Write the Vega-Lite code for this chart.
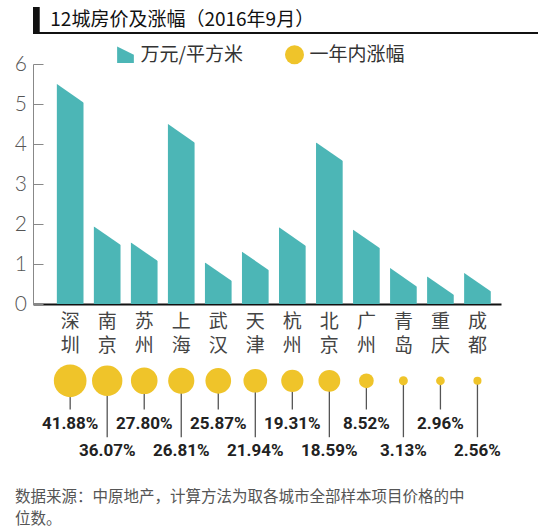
{
  "$schema": "https://vega.github.io/schema/vega-lite/v6.json",
  "padding": {"left": 9, "top": 7, "right": 0, "bottom": 0},
  "background": "white",
  "config": {"view": {"stroke": null}, "font": "Noto Sans CJK SC"},
  "title": {
    "text": ["数据来源：中原地产，计算方法为取各城市全部样本项目价格的中", "位数。"],
    "orient": "bottom", "anchor": "start", "frame": "bounds", "dx": 6,
    "fontSize": 15.5, "fontWeight": "normal", "color": "#555", "lineHeight": 21.5,
    "offset": 31, "font": "Noto Sans CJK SC"
  },
  "datasets": {
    "cities": [
      {"city": "深圳", "price": 5.5, "growth": 0.4188},
      {"city": "南京", "price": 1.94, "growth": 0.3607},
      {"city": "苏州", "price": 1.54, "growth": 0.2780},
      {"city": "上海", "price": 4.5, "growth": 0.2681},
      {"city": "武汉", "price": 1.04, "growth": 0.2587},
      {"city": "天津", "price": 1.31, "growth": 0.2194},
      {"city": "杭州", "price": 1.92, "growth": 0.1931},
      {"city": "北京", "price": 4.04, "growth": 0.1859},
      {"city": "广州", "price": 1.86, "growth": 0.0852},
      {"city": "青岛", "price": 0.9, "growth": 0.0313},
      {"city": "重庆", "price": 0.69, "growth": 0.0296},
      {"city": "成都", "price": 0.78, "growth": 0.0256}
    ]
  },
  "spacing": 19,
  "vconcat": [
    {
      "width": 529, "height": 26,
      "data": {"values": [{"title": "12城房价及涨幅（2016年9月）"}]},
      "layer": [
        {
          "mark": {"type": "rule", "color": "#111", "strokeWidth": 2},
          "encoding": {"y": {"datum": 0, "type": "quantitative", "scale": {"domain": [0, 1]}, "axis": null}}
        },
        {
          "mark": {"type": "rect", "color": "#111"},
          "encoding": {
            "x": {"datum": 0, "type": "quantitative", "scale": {"domain": [0, 529]}, "axis": null},
            "x2": {"datum": 7},
            "y": {"datum": 0, "type": "quantitative"},
            "y2": {"datum": 1}
          }
        },
        {
          "mark": {"type": "text", "align": "left", "baseline": "middle", "fontSize": 19, "color": "#111", "font": "Noto Sans CJK SC"},
          "encoding": {
            "x": {"datum": 18, "type": "quantitative"},
            "y": {"datum": 0.5, "type": "quantitative"},
            "text": {"field": "title"}
          }
        }
      ]
    },
    {
      "spacing": 4,
      "vconcat": [
        {
          "width": 468, "height": 240,
          "data": {"name": "cities"},
          "encoding": {
            "x": {
              "field": "city", "type": "nominal", "sort": null,
              "scale": {
                "domain": ["深圳", "南京", "苏州", "上海", "武汉", "天津", "杭州", "北京", "广州", "青岛", "重庆", "成都"],
                "paddingInner": 0.28, "paddingOuter": 0.46, "align": 0.7
              },
              "axis": {
                "title": null, "domainColor": "#111", "domainWidth": 2, "ticks": false,
                "labelAngle": 0, "labelExpr": "split(datum.label, '')",
                "labelFontSize": 19, "labelLineHeight": 23.5, "labelColor": "#444",
                "labelPadding": 8.5, "labelBaseline": "top", "labelFont": "Noto Sans CJK SC"
              }
            },
            "y": {
              "field": "price", "type": "quantitative",
              "scale": {"domain": [0, 6]},
              "axis": {
                "title": null, "values": [0, 1, 2, 3, 4, 5, 6], "tickCount": 7, "grid": false,
                "labelOverlap": false, "labelSeparation": 0, "labelBound": false,
                "domainColor": "#888", "domainWidth": 1, "ticks": true, "tickColor": "#888",
                "tickSize": -10, "tickWidth": 1, "labelFontSize": 21,
                "labelFont": "Lato", "labelFontWeight": 300, "labelColor": "#555",
                "labelPadding": 16.5, "minExtent": 24
              }
            }
          },
          "layer": [
            {
              "mark": {"type": "bar"},
              "encoding": {
                "color": {
                  "datum": "万元/平方米",
                  "scale": {"domain": ["万元/平方米", "一年内涨幅"], "range": ["#4cb6b6", "#efc42a"]},
                  "legend": {
                    "orient": "none", "legendX": 83, "legendY": 38, "direction": "horizontal",
                    "title": null, "labelFontSize": 19, "labelFont": "Noto Sans CJK SC",
                    "labelColor": "#333", "labelOffset": 5.5, "columnPadding": 42,
                    "symbolSize": 361, "symbolStrokeWidth": 0, "symbolOpacity": 1,
                    "encode": {
                      "symbols": {
                        "update": {
                          "shape": {"signal": "datum.value === '一年内涨幅' ? 'circle' : 'M -1 -1 L 1 0 L 1 1 L -1 1 Z'"},
                          "size": {"signal": "datum.value === '一年内涨幅' ? 361 : 280"}
                        }
                      }
                    }
                  }
                }
              }
            },
            {
              "mark": {
                "type": "point", "filled": true, "color": "white", "opacity": 1, "strokeWidth": 0,
                "shape": "M -1.1 -0.069 L -1.1 -0.3 L 1.1 -0.3 L 1.1 1.455 Z", "size": 713
              }
            }
          ]
        },
        {
          "width": 468, "height": 99,
          "data": {"name": "cities"},
          "transform": [{"window": [{"op": "row_number", "as": "idx"}]}],
          "encoding": {
            "x": {
              "field": "city", "type": "nominal", "sort": null,
              "scale": {
                "domain": ["深圳", "南京", "苏州", "上海", "武汉", "天津", "杭州", "北京", "广州", "青岛", "重庆", "成都"],
                "paddingInner": 0.28, "paddingOuter": 0.46, "align": 0.7
              },
              "axis": null
            }
          },
          "layer": [
            {
              "transform": [{"filter": "datum.idx % 2 == 1"}],
              "mark": {"type": "rule", "color": "#555", "strokeWidth": 1.3},
              "encoding": {
                "y": {"datum": 22, "type": "quantitative", "scale": {"domain": [0, 99], "reverse": true}, "axis": null},
                "y2": {"datum": 51}
              }
            },
            {
              "transform": [{"filter": "datum.idx % 2 == 0"}],
              "mark": {"type": "rule", "color": "#555", "strokeWidth": 1.3},
              "encoding": {
                "y": {"datum": 22, "type": "quantitative"},
                "y2": {"datum": 79}
              }
            },
            {
              "mark": {"type": "circle", "opacity": 1},
              "encoding": {
                "y": {"datum": 22, "type": "quantitative"},
                "size": {"field": "growth", "type": "quantitative", "scale": {"domain": [0, 0.42], "range": [0, 1072]}, "legend": null},
                "color": {"datum": "一年内涨幅"}
              }
            },
            {
              "transform": [{"filter": "datum.idx % 2 == 1"}],
              "mark": {"type": "text", "fontSize": 17, "fontWeight": "bold", "font": "Roboto", "color": "#222", "baseline": "middle"},
              "encoding": {
                "y": {"datum": 65.5, "type": "quantitative"},
                "text": {"field": "growth", "type": "quantitative", "format": ".2%"}
              }
            },
            {
              "transform": [{"filter": "datum.idx % 2 == 0"}],
              "mark": {"type": "text", "fontSize": 17, "fontWeight": "bold", "font": "Roboto", "color": "#222", "baseline": "middle"},
              "encoding": {
                "y": {"datum": 93, "type": "quantitative"},
                "text": {"field": "growth", "type": "quantitative", "format": ".2%"}
              }
            }
          ]
        }
      ]
    }
  ]
}
